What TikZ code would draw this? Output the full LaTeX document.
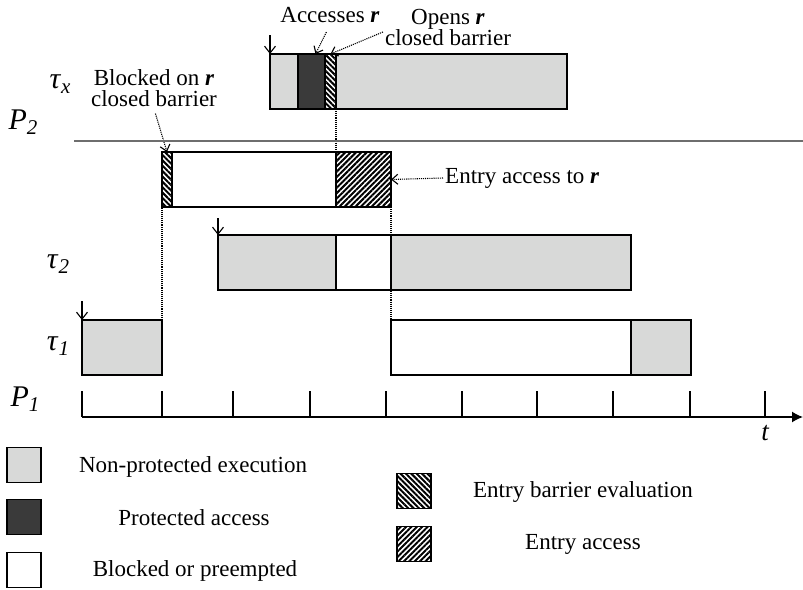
\documentclass[tikz,border=0pt]{standalone}
\usepackage{fontspec}
\setmainfont{Liberation Serif}
\usepackage{xcolor}
\usetikzlibrary{arrows.meta, positioning, patterns.meta}
\definecolor{exgray}{RGB}{216,217,216}
\definecolor{acdark}{RGB}{58,58,58}
\definecolor{rulegray}{RGB}{110,110,110}
\newcommand{\tsk}[2]{\textit{#1}\raisebox{-0.4ex}{\fontsize{21}{21}\selectfont\textit{#2}}}
\newcommand{\res}{\textbf{\textit{r}}}

\begin{document}
\begin{tikzpicture}[x=1pt, y=-1pt, font=\fontsize{23}{21}\selectfont,
  seg/.style={draw, line width=1.5pt, inner sep=0pt, outer sep=0pt, anchor=north west, minimum height=55pt},
  hev/.style={pattern={Lines[angle=-45, distance=3.8pt, line width=2pt]}},
  hea/.style={pattern={Lines[angle=45, distance=3.8pt, line width=2pt]}},
  ex/.style={seg, fill=exgray},
  pa/.style={seg, fill=acdark},
  bl/.style={seg, fill=white},
  ev/.style={seg, hev},
  ea/.style={seg, hea},
  lg/.style={draw, line width=1.5pt, inner sep=0pt, minimum width=34pt, minimum height=35pt},
  tl/.style={font=\fontsize{30}{30}\selectfont},
  nt/.style={align=center, inner sep=2pt},
  rel/.style={line width=1.1pt, -{Straight Barb[length=7pt, width=11pt]}},
  dot/.style={densely dotted, line width=1.1pt},
  ptr/.style={dot, -{Straight Barb[length=6pt, width=10pt]}}]
\useasboundingbox (0,0) rectangle (803,589);
\node[ex, minimum width=28pt] (xa) at (270,54) {};
\node[pa, minimum width=27pt] (xb) at (xa.north east) {};
\node[ev, minimum width=11pt] (xc) at (xb.north east) {};
\node[ex, minimum width=231pt] (xd) at (xc.north east) {};
\node[ev, minimum width=10pt] (ba) at (162,152) {};
\node[bl, minimum width=164pt] (bb) at (ba.north east) {};
\node[ea, minimum width=55pt] (bc) at (bb.north east) {};
\node[ex, minimum width=118pt] (ua) at (218,235) {};
\node[bl, minimum width=55pt] (ub) at (ua.north east) {};
\node[ex, minimum width=240pt] (uc) at (ub.north east) {};
\node[ex, minimum width=80pt] (va) at (82,320) {};
\node[bl, minimum width=240pt] (vb) at (391,320) {};
\node[ex, minimum width=60pt] (vc) at (vb.north east) {};
\draw[dot] (va.north east) -- (ba.south west);
\draw[dot] (xc.south east) -- (bc.north west);
\draw[dot] (bc.south east) -- (vb.north west);
\coordinate (rx) at ([yshift=19pt]xa.north west);
\coordinate (ru) at ([yshift=17pt]ua.north west);
\coordinate (rv) at ([yshift=19pt]va.north west);
\draw[rel] (rx) -- (xa.north west);
\draw[rel] (ru) -- (ua.north west);
\draw[rel] (rv) -- (va.north west);
\node[nt] (acc) at (330,15) {Accesses \res};
\node[nt] (opn) at (448,27) {Opens \res\\closed barrier};
\node[nt] (blk) at (154,88) {Blocked on \res\\closed barrier};
\node[nt, anchor=west] (ent) at (443,178) {Entry access to \res};
\draw[ptr, shorten <=8pt] (acc.south) -- ([xshift=4pt]xb.north);
\draw[ptr] ([yshift=-5pt]opn.west) -- (xc.north);
\draw[ptr, shorten <=5pt] (blk.south) -- (ba.north);
\draw[ptr] (ent.west) -- (bc.east);
\node[tl] (lx) at (60,84) {\tsk{τ}{x}};
\node[tl] (lu) at (58,264) {\tsk{τ}{2}};
\node[tl] (lv) at (58,346) {\tsk{τ}{1}};
\node[tl] (p2) at (23,122) {\tsk{P}{2}};
\node[tl] (p1) at (25,399) {\tsk{P}{1}};
\coordinate (sl) at (74,141);
\coordinate (sr) at (803,141);
\draw[rulegray, line width=1.2pt] (sl) -- (sr);
\coordinate (o) at (82,417);
\coordinate (tend) at (803,417);
\draw[line width=1.5pt, -{Latex[length=11pt, width=11pt]}] (o) -- (tend);
\foreach \x in {82,162,233,310,386,462,537,613,690,765}
  \draw[line width=1.5pt] (\x,391) -- (\x,417);
\node[font=\fontsize{27}{27}\selectfont\itshape] (tt) at (765,433) {t};
\node[lg, fill=exgray] (k1) at (24,465) {};
\node[lg, fill=acdark] (k2) at (24,517) {};
\node[lg, fill=white] (k3) at (24,570) {};
\node[lg, hev] (k4) at (414,491) {};
\node[lg, hea] (k5) at (414,544) {};
\node (n1) at (193,467) {Non-protected execution};
\node (n2) at (194,518) {Protected access};
\node (n3) at (195,571) {Blocked or preempted};
\node (n4) at (583,492) {Entry barrier evaluation};
\node (n5) at (583,544) {Entry access};
\end{tikzpicture}
\end{document}
